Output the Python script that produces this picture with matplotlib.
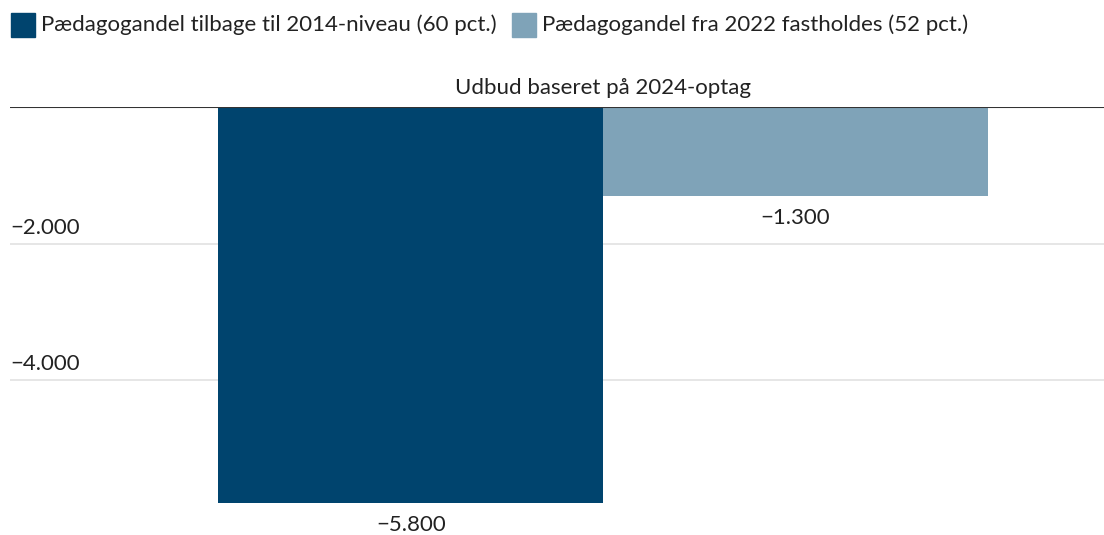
import matplotlib.pyplot as plt
from matplotlib.patches import Rectangle
from matplotlib.transforms import blended_transform_factory

plt.rcParams['font.family'] = ['Lato', 'DejaVu Sans']

# data
category = 'Udbud baseret på 2024-optag'
series = ['Pædagogandel tilbage til 2014-niveau (60 pct.)',
          'Pædagogandel fra 2022 fastholdes (52 pct.)']
values = [-5800, -1300]
colors = ['#00446e', '#7fa3b8']
yticks = [-2000, -4000]

TXT = '#222222'
FS = 16


def dk(v):
    s = f'{abs(v):,.0f}'.replace(',', '.')
    return ('\u2212' if v < 0 else '') + s


fig = plt.figure(figsize=(11.04, 5.35), dpi=100)
W, H = 1104, 535
ax = fig.add_axes([10 / W, 0, 1094 / W, (535 - 107) / H])

bw = 0.5
xs = [-bw / 2, bw / 2]
for x, v, c in zip(xs, values, colors):
    ax.bar(x, v, width=bw, color=c, zorder=2)
    ax.annotate(dk(v), (x, v), xytext=(0, -9), textcoords='offset points',
                ha='center', va='top', fontsize=FS, color=TXT)

ax.set_xlim(-0.771, 0.651)
ax.set_ylim(-6271, 0)

tr = blended_transform_factory(ax.transAxes, ax.transData)
for t in yticks:
    ax.axhline(t, color='#e2e2e2', lw=1.2, zorder=1)
    ax.annotate(dk(t), (0, t), xycoords=tr, xytext=(0, 4), textcoords='offset points',
                ha='left', va='bottom', fontsize=FS, color=TXT)
ax.axhline(0, color='#333333', lw=1.5, zorder=3)

ax.text(0, 1.02, category, transform=blended_transform_factory(ax.transData, ax.transAxes),
        ha='center', va='bottom', fontsize=FS, color=TXT)

ax.set_xticks([])
ax.set_yticks([])
for s in ax.spines.values():
    s.set_visible(False)

# legend drawn by hand
lx = [11, 512]
for x0, name, c in zip(lx, series, colors):
    fig.add_artist(Rectangle((x0 / W, 1 - 37 / H), 24 / W, 24 / H,
                             transform=fig.transFigure, color=c))
    fig.text((x0 + 30) / W, 1 - 25 / H, name, ha='left', va='center',
             fontsize=FS, color=TXT)

fig.savefig('out.png', dpi=100)
